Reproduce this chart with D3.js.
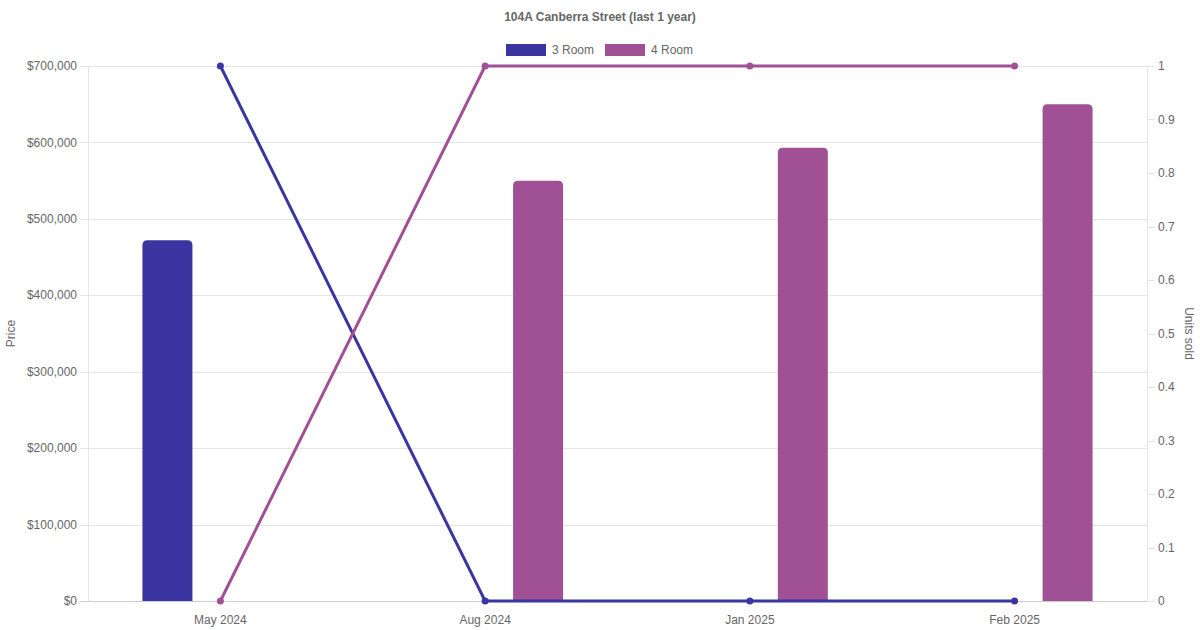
<!DOCTYPE html>
<html>
<head>
<meta charset="utf-8">
<script src="https://cdn.jsdelivr.net/npm/d3@7"></script>
<style>
  body { margin: 0; background: #fff; }
  svg { font-family: "Liberation Sans", Arial, sans-serif; }
</style>
</head>
<body>
<svg width="1200" height="630"></svg>
<script>
var months = ["May 2024", "Aug 2024", "Jan 2025", "Feb 2025"];
var seriesNames = ["3 Room", "4 Room"];
var colors = ["#3a35a0", "#a05195"];
// price (bars), null = no sale
var price3 = [472000, null, null, null];
var price4 = [null, 550000, 593000, 650000];
// units sold (lines)
var units3 = [1, 0, 0, 0];
var units4 = [0, 1, 1, 1];
var priceTicks = [0, 100000, 200000, 300000, 400000, 500000, 600000, 700000];

var svg = d3.select("svg"),
    width = +svg.attr("width"),
    height = +svg.attr("height"),
    margin = {top: 66, right: 53, bottom: 29, left: 88};

var x = d3.scaleBand().domain(months).range([margin.left, width - margin.right]),
    slot = d3.scaleBand().domain(seriesNames).range([0, x.bandwidth()]).paddingOuter(0.25),
    yL = d3.scaleLinear().domain([0, 700000]).range([height - margin.bottom, margin.top]),
    yR = d3.scaleLinear().domain([0, 1]).range([height - margin.bottom, margin.top]);

var grey = "#666";

// horizontal grid + left ticks
var gridG = svg.append("g");
gridG.selectAll("line")
  .data(priceTicks)
  .enter().append("line")
    .attr("x1", margin.left - 8)
    .attr("x2", width - margin.right)
    .attr("y1", function(d) { return Math.round(yL(d)) + 0.5; })
    .attr("y2", function(d) { return Math.round(yL(d)) + 0.5; })
    .attr("stroke", function(d) { return d === 0 ? "#ccc" : "#e5e5e5"; });

// axis borders
svg.append("line")
  .attr("x1", margin.left + 0.5).attr("x2", margin.left + 0.5)
  .attr("y1", margin.top).attr("y2", height - margin.bottom)
  .attr("stroke", "#e5e5e5");
svg.append("line")
  .attr("x1", width - margin.right + 0.5).attr("x2", width - margin.right + 0.5)
  .attr("y1", margin.top).attr("y2", height - margin.bottom)
  .attr("stroke", "#e5e5e5");

// left tick labels
svg.append("g").selectAll("text")
  .data(priceTicks)
  .enter().append("text")
    .attr("x", margin.left - 11)
    .attr("y", function(d) { return yL(d); })
    .attr("dy", "0.35em")
    .attr("text-anchor", "end")
    .attr("fill", grey)
    .style("font-size", "12px")
    .text(function(d) { return "$" + d3.format(",")(d); });

// right ticks
var rTicks = d3.range(0, 11).map(function(i) { return i / 10; });
var rG = svg.append("g");
rG.selectAll("line")
  .data(rTicks)
  .enter().append("line")
    .attr("x1", width - margin.right)
    .attr("x2", width - margin.right + 8)
    .attr("y1", function(d) { return Math.round(yR(d)) + 0.5; })
    .attr("y2", function(d) { return Math.round(yR(d)) + 0.5; })
    .attr("stroke", "#e5e5e5");
rG.selectAll("text")
  .data(rTicks)
  .enter().append("text")
    .attr("x", width - margin.right + 11)
    .attr("y", function(d) { return yR(d); })
    .attr("dy", "0.35em")
    .attr("fill", grey)
    .style("font-size", "12px")
    .text(function(d) { return d3.format("~g")(d); });

// x labels
svg.append("g").selectAll("text")
  .data(months)
  .enter().append("text")
    .attr("x", function(d) { return x(d) + x.bandwidth() / 2; })
    .attr("y", height - margin.bottom + 23)
    .attr("text-anchor", "middle")
    .attr("fill", grey)
    .style("font-size", "12px")
    .text(function(d) { return d; });

// axis titles
svg.append("text")
  .attr("transform", "translate(15," + ((margin.top + height - margin.bottom) / 2) + ") rotate(-90)")
  .attr("text-anchor", "middle")
  .attr("fill", grey)
  .style("font-size", "12px")
  .text("Price");
svg.append("text")
  .attr("transform", "translate(1185," + ((margin.top + height - margin.bottom) / 2) + ") rotate(90)")
  .attr("text-anchor", "middle")
  .attr("fill", grey)
  .style("font-size", "12px")
  .text("Units sold");

// bars with rounded tops
function barPath(x0, w, yTop, yBot, r) {
  return "M" + x0 + "," + yBot +
    "V" + (yTop + r) +
    "Q" + x0 + "," + yTop + " " + (x0 + r) + "," + yTop +
    "H" + (x0 + w - r) +
    "Q" + (x0 + w) + "," + yTop + " " + (x0 + w) + "," + (yTop + r) +
    "V" + yBot + "Z";
}
var barW = 50;
[price3, price4].forEach(function(vals, si) {
  var bars = months.map(function(m, i) { return {m: m, v: vals[i]}; })
    .filter(function(d) { return d.v != null; });
  svg.append("g").selectAll("path")
    .data(bars)
    .enter().append("path")
      .attr("fill", colors[si])
      .attr("d", function(d) {
        var cx = x(d.m) + slot(seriesNames[si]) + slot.bandwidth() / 2;
        return barPath(cx - barW / 2, barW, yL(d.v), yL(0), 5);
      });
});

// lines
var line = d3.line()
  .x(function(d, i) { return x(months[i]) + x.bandwidth() / 2; })
  .y(function(d) { return yR(d); });
[units3, units4].forEach(function(vals, si) {
  svg.append("path")
    .attr("d", line(vals))
    .attr("fill", "none")
    .attr("stroke", colors[si])
    .attr("stroke-width", 3);
  svg.append("g").selectAll("circle")
    .data(vals)
    .enter().append("circle")
      .attr("cx", function(d, i) { return x(months[i]) + x.bandwidth() / 2; })
      .attr("cy", function(d) { return yR(d); })
      .attr("r", 3.5)
      .attr("fill", colors[si]);
});

// title
svg.append("text")
  .attr("x", 600)
  .attr("y", 21)
  .attr("text-anchor", "middle")
  .attr("fill", grey)
  .style("font-size", "12px")
  .style("font-weight", "bold")
  .text("104A Canberra Street (last 1 year)");

// legend
var legend = svg.append("g");
var legX = [506, 605];
seriesNames.forEach(function(name, i) {
  legend.append("rect")
    .attr("x", legX[i]).attr("y", 44)
    .attr("width", 40).attr("height", 12)
    .attr("fill", colors[i]);
  legend.append("text")
    .attr("x", legX[i] + 46).attr("y", 50)
    .attr("dy", "0.35em")
    .attr("fill", grey)
    .style("font-size", "12px")
    .text(name);
});
</script>
</body>
</html>
